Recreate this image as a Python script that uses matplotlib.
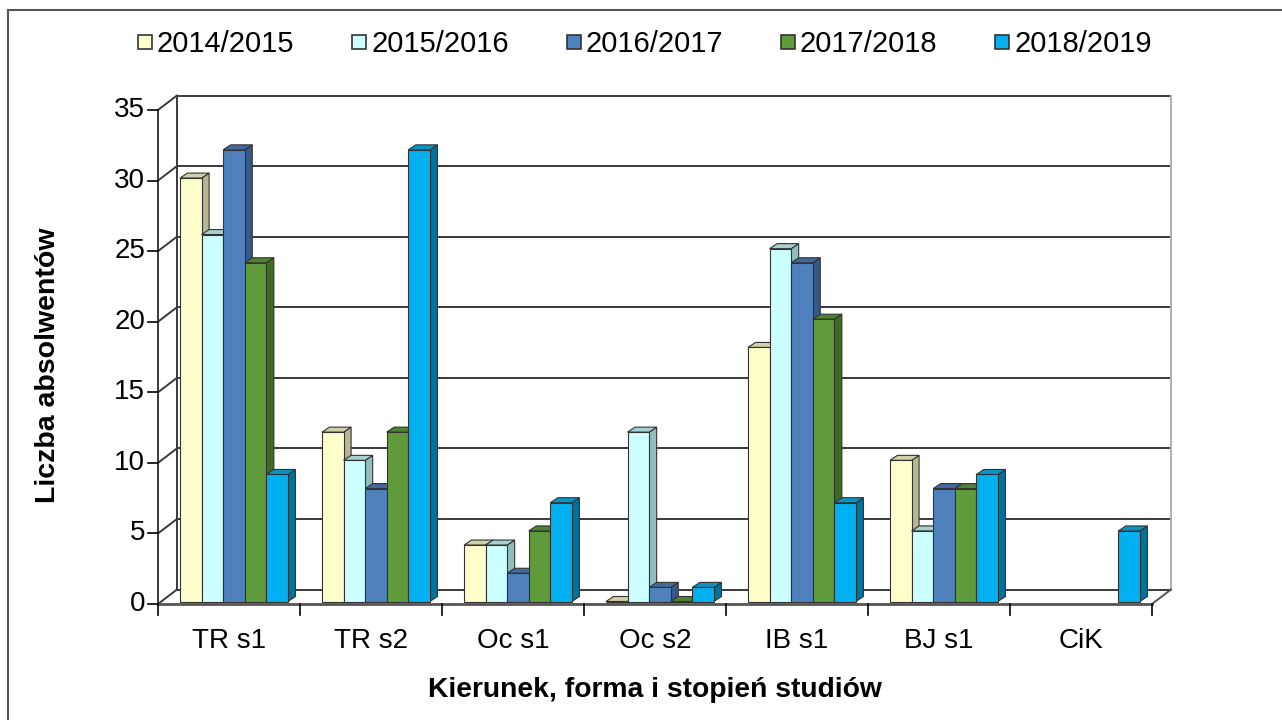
import numpy as np
import matplotlib.pyplot as plt
from matplotlib.patches import Polygon, Rectangle
from matplotlib.lines import Line2D

plt.rcParams['font.family'] = ['Liberation Sans', 'DejaVu Sans']

# dane
kierunki = ['TR s1', 'TR s2', 'Oc s1', 'Oc s2', 'IB s1', 'BJ s1', 'CiK']
lata = ['2014/2015', '2015/2016', '2016/2017', '2017/2018', '2018/2019']
r2014 = [30, 12, 4, 0, 18, 10, np.nan]
r2015 = [26, 10, 4, 12, 25, 5, np.nan]
r2016 = [32, 8, 2, 1, 24, 8, np.nan]
r2017 = [24, 12, 5, 0, 20, 8, np.nan]
r2018 = [9, 32, 7, 1, 7, 9, 5]
serie = [r2014, r2015, r2016, r2017, r2018]

# kolory: front, bok, góra
kolory = [
    ('#FFFFCC', '#B8B890', '#D0D0A8'),
    ('#CCFFFF', '#93BCBC', '#A8D0D0'),
    ('#4F81BD', '#35598A', '#42699C'),
    ('#5F9A3B', '#3F6B25', '#4E8231'),
    ('#00B0F0', '#00729E', '#0795C8'),
]
yticks = [0, 5, 10, 15, 20, 25, 30, 35]

fig = plt.figure(figsize=(12.82, 7.2), dpi=100)
# przednia płaszczyzna wykresu (piksele 158..1152, 604..110)
ax = fig.add_axes([158 / 1282, (720 - 604) / 720, 994 / 1282, 494 / 720])
ax.set_xlim(0, 7)
ax.set_ylim(0, 35)
ax.axis('off')

px_x = 994 / 7
px_y = 494 / 35
# przesunięcie tylnej ściany
BDX, BDY = 19 / px_x, 14.5 / px_y
# głębokość słupka
DX, DY = 7.5 / px_x, 5 / px_y
# przesunięcie słupków względem przedniej płaszczyzny
OX, OY = 3 / px_x, 2.5 / px_y

szary = '#3a3a3a'
kw = dict(color=szary, lw=1.4, clip_on=False, zorder=1)
# ściany i siatka
for v in yticks:
    ax.plot([BDX, 7 + BDX], [v + BDY, v + BDY], **kw)
    ax.plot([0, BDX], [v, v + BDY], **kw)
    ax.plot([-0.07, 0], [v, v], color='black', lw=1.2, clip_on=False)
ax.plot([0, 0], [0, 35], **kw)
ax.plot([BDX, BDX], [0 + BDY, 35 + BDY], **kw)
ax.plot([7 + BDX, 7 + BDX], [BDY, 35 + BDY], color='#b0b0b0', lw=1.4, clip_on=False, zorder=1)
# podłoga
ax.plot([0, 7], [0, 0], color='#555555', lw=2, clip_on=False, zorder=1)
ax.plot([7, 7 + BDX], [0, BDY], color='#555555', lw=1.4, clip_on=False, zorder=1)
for i in range(8):
    ax.plot([i, i], [0, -0.75], color='black', lw=1.2, clip_on=False)

# słupki 3D
szer = 0.152
start = 0.155
z = 2
for k in range(len(kierunki)):
    for s, dane in enumerate(serie):
        v = dane[k]
        if np.isnan(v):
            continue
        front, bok, gora = kolory[s]
        x0 = k + start + s * szer
        x1 = x0 + szer
        y0 = OY
        y1 = v + OY
        ax.add_patch(Polygon([(x1, y0), (x1 + DX, y0 + DY), (x1 + DX, y1 + DY), (x1, y1)],
                             closed=True, fc=bok, ec='#333333', lw=0.8, zorder=z, clip_on=False))
        ax.add_patch(Polygon([(x0, y1), (x0 + DX, y1 + DY), (x1 + DX, y1 + DY), (x1, y1)],
                             closed=True, fc=gora, ec='#333333', lw=0.8, zorder=z, clip_on=False))
        ax.bar(x0, v, width=szer, bottom=y0, align='edge', color=front,
               edgecolor='#333333', lw=0.8, zorder=z + 0.5, clip_on=False)
        z += 1

# opisy osi
for v in yticks:
    ax.text(-0.09, v, str(v), ha='right', va='center', fontsize=20)
for k, nazwa in enumerate(kierunki):
    ax.text(k + 0.5, -2.6, nazwa, ha='center', va='center', fontsize=20)
fig.text(655 / 1282, 1 - 690 / 720, 'Kierunek, forma i stopień studiów',
         ha='center', va='center', fontsize=20.3, fontweight='bold')
fig.text(48 / 1282, 1 - 365 / 720, 'Liczba absolwentów', rotation=90,
         ha='center', va='center', fontsize=20.5, fontweight='bold')

# legenda
uchwyty = [Line2D([], [], marker='s', ls='none', markersize=10.5, markerfacecolor=c[0],
                  markeredgecolor='#333333', markeredgewidth=1.2) for c in kolory]
fig.legend(uchwyty, lata, loc='center', bbox_to_anchor=(644 / 1282, 1 - 44 / 720), ncol=5,
           frameon=False, fontsize=21, handlelength=0.6, handletextpad=0.1,
           columnspacing=1.93, borderaxespad=0)

# ramka
fig.add_artist(Rectangle((8 / 1282, -0.1), 1.2, 1 - 10 / 720 + 0.1, transform=fig.transFigure,
                         fill=False, ec='#555555', lw=1.5))

fig.savefig('out.png', dpi=100)
